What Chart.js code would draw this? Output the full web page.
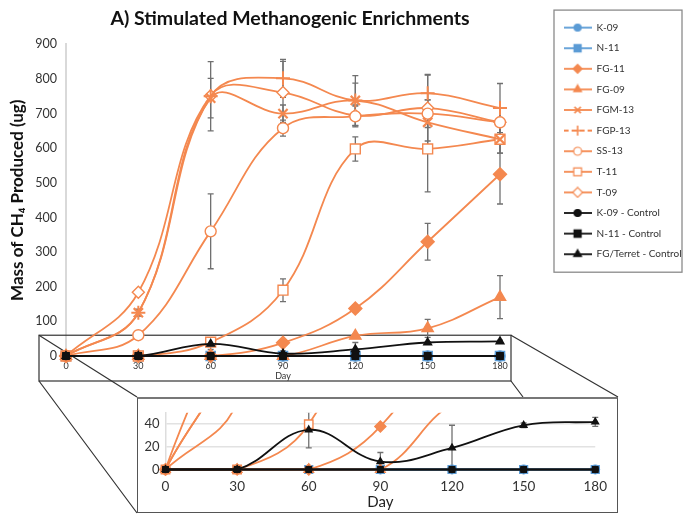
<!DOCTYPE html>
<html><head><meta charset="utf-8">
<script src="https://cdn.jsdelivr.net/npm/chart.js@4.4.1/dist/chart.umd.min.js"></script>
<style>
html,body{margin:0;padding:0;background:#fff;}
#wrap{position:relative;width:684px;height:517px;overflow:hidden;}
#main{position:absolute;left:0;top:0;}
#insetBox{position:absolute;left:137px;top:397px;width:481px;height:116px;box-sizing:border-box;border:1.5px solid #555;border-top:2.5px solid #777;background:#fff;}
#inset{display:block;}
</style></head><body>
<div id="wrap">
<canvas id="main" width="684" height="517"></canvas>
<div id="insetBox"><canvas id="inset" width="478" height="112"></canvas></div>
</div>
<script>
// ---------- data ----------
const days = [0, 30, 60, 90, 120, 150, 180];
const seriesNames = ['K-09', 'N-11', 'FG-11', 'FG-09', 'FGM-13', 'FGP-13', 'SS-13', 'T-11', 'T-09',
  'K-09 - Control', 'N-11 - Control', 'FG/Terret - Control'];
const k09 = [0, 0, 0, 0, 0, 0, 0];
const n11 = [0, 0, 0, 0, 0, 0, 0];
const fg11 = [0, 0, 0, 38, 137, 330, 525];
const fg09 = [0, 0, 0, 0, 58, 80, 170];
const fgm13 = [0, 125, 745, 700, 738, 675, 626];
const fgp13 = [0, 125, 750, 802, 738, 759, 716];
const ss13 = [0, 60, 360, 658, 692, 700, 675];
const t11 = [0, 0, 40, 190, 598, 598, 626];
const t09 = [0, 184, 752, 761, 695, 716, 675];
const k09Control = [0, 0, 0, 0, 0, 0, 0];
const n11Control = [0, 0, 0, 0, 0, 0, 0];
const fgTerretControl = [0, 0, 35, 7, 19, 39, 42];

// +/- error values
const k09Err = [0, 0, 0, 0, 0, 0, 0];
const n11Err = [0, 0, 0, 0, 0, 0, 0];
const fg11Err = [0, 0, 0, 0, 10, 53, 86];
const fg09Err = [0, 0, 0, 0, 5, 26, 62];
const fgm13Err = [0, 10, 57, 25, 72, 65, 40];
const fgp13Err = [0, 8, 100, 55, 50, 54, 71];
const ss13Err = [0, 5, 108, 23, 30, 40, 40];
const t11Err = [0, 0, 0, 33, 35, 124, 40];
const t09Err = [0, 5, 0, 90, 30, 95, 40];
const k09ControlErr = [0, 0, 0, 0, 0, 0, 0];
const n11ControlErr = [0, 0, 0, 0, 0, 0, 0];
const fgTerretControlErr = [0, 0, 16, 8, 20, 2, 4];

const mainYTicks = [0, 100, 200, 300, 400, 500, 600, 700, 800, 900];
const insetYLabels = [0, 20, 40];

const seriesValues = [k09, n11, fg11, fg09, fgm13, fgp13, ss13, t11, t09, k09Control, n11Control, fgTerretControl];
const seriesErrors = [k09Err, n11Err, fg11Err, fg09Err, fgm13Err, fgp13Err, ss13Err, t11Err, t09Err, k09ControlErr, n11ControlErr, fgTerretControlErr];

// ---------- styles ----------
const BLUE = '#5B9BD5', ORANGE = '#F4884F', BLACK = '#111111', WHITE = '#ffffff';
const styles = [
  {color: BLUE, fill: BLUE, ps: 'circle', r: 5, lr: 3.5, order: 1},
  {color: BLUE, fill: BLUE, ps: 'rect', r: 6.5, lr: 5, order: 1},
  {color: ORANGE, fill: ORANGE, ps: 'rectRot', r: 6.5, lr: 4.5, order: 0},
  {color: ORANGE, fill: ORANGE, ps: 'triangle', r: 6.5, lr: 4.5, order: 0},
  {color: ORANGE, fill: ORANGE, ps: 'crossRot', r: 6.5, lr: 4.5, bw: 2.2, order: 0},
  {color: ORANGE, fill: ORANGE, ps: 'cross', r: 7, lr: 5, bw: 2, dash: true, order: 0},
  {color: ORANGE, fill: WHITE, ps: 'circle', r: 5.5, lr: 4, order: 0},
  {color: ORANGE, fill: WHITE, ps: 'rect', r: 7, lr: 5.5, order: 0},
  {color: ORANGE, fill: WHITE, ps: 'rectRot', r: 6, lr: 5, order: 0},
  {color: BLACK, fill: BLACK, ps: 'circle', r: 3.5, lr: 3.5, order: -1},
  {color: BLACK, fill: BLACK, ps: 'rect', r: 4.5, lr: 5, order: -1},
  {color: BLACK, fill: BLACK, ps: 'triangle', r: 4.5, lr: 4.5, order: -1}
];

Chart.defaults.font.family = "Lato, 'DejaVu Sans', sans-serif";
Chart.defaults.color = '#333';

function makeLegendImage(st) {
  const c = document.createElement('canvas');
  c.width = 28; c.height = 12;
  const g = c.getContext('2d');
  g.strokeStyle = st.color; g.lineWidth = 1.8;
  if (st.dash) g.setLineDash([5, 3]);
  g.beginPath(); g.moveTo(0, 6); g.lineTo(28, 6); g.stroke();
  g.setLineDash([]);
  g.fillStyle = st.fill; g.strokeStyle = st.color; g.lineWidth = st.bw ? 1.6 : 1.2;
  Chart.helpers.drawPoint(g, {pointStyle: st.ps, radius: st.lr, borderWidth: 1.2, rotation: 0}, 14, 6);
  return c;
}
const legendImages = styles.map(makeLegendImage);

function buildDatasets(scale) {
  return seriesNames.map((name, i) => {
    const st = styles[i];
    return {
      label: name,
      data: days.map((d, j) => ({x: d, y: seriesValues[i][j]})),
      errors: seriesErrors[i],
      borderColor: st.color,
      backgroundColor: st.color,
      borderWidth: 1.8,
      tension: 0.4,
      pointStyle: st.ps,
      pointRadius: st.r * scale,
      pointBackgroundColor: st.fill,
      pointBorderColor: st.color,
      pointBorderWidth: st.bw || 1.4,
      order: st.order
    };
  });
}

const errorBarsPlugin = {
  id: 'errorBars',
  beforeDatasetsDraw(chart, args, opts) {
    const {ctx, chartArea: a} = chart;
    const ys = chart.scales.y;
    ctx.save();
    ctx.beginPath();
    ctx.rect(a.left - 10, a.top - (opts.clipTop ? 0 : 20), a.right - a.left + 20, a.bottom - a.top + 30);
    ctx.clip();
    ctx.strokeStyle = '#707070';
    ctx.lineWidth = 1.3;
    const cap = 3;
    chart.data.datasets.forEach((ds, i) => {
      const meta = chart.getDatasetMeta(i);
      meta.data.forEach((pt, j) => {
        const e = ds.errors[j];
        if (!e) return;
        const v = ds.data[j].y;
        const t = ys.getPixelForValue(v + e), b = ys.getPixelForValue(v - e);
        ctx.beginPath();
        ctx.moveTo(pt.x, t); ctx.lineTo(pt.x, b);
        ctx.moveTo(pt.x - cap, t); ctx.lineTo(pt.x + cap, t);
        ctx.moveTo(pt.x - cap, b); ctx.lineTo(pt.x + cap, b);
        ctx.stroke();
      });
    });
    ctx.restore();
  }
};

const zoomFramePlugin = {
  id: 'zoomFrame',
  beforeDatasetsDraw(chart) {
    const {ctx, chartArea: a, scales: {x, y}} = chart;
    const box = document.getElementById('insetBox');
    const L = a.left - 27, R = x.getPixelForValue(180) + 11, T = y.getPixelForValue(60), B = a.bottom + 25;
    const iL = box.offsetLeft, iT = box.offsetTop, iR = iL + box.offsetWidth, iB = iT + box.offsetHeight;
    ctx.save();
    ctx.strokeStyle = '#333'; ctx.lineWidth = 1.2;
    ctx.strokeRect(L, T, R - L, B - T);
    ctx.beginPath();
    ctx.moveTo(L, T); ctx.lineTo(iL, iT);
    ctx.moveTo(L, B); ctx.lineTo(iL, iB);
    ctx.moveTo(R, T); ctx.lineTo(iR, iT);
    ctx.moveTo(R, B); ctx.lineTo(R + 12, iT);
    ctx.stroke();
    ctx.restore();
  }
};

const legendBorderPlugin = {
  id: 'legendBorder',
  afterDraw(chart) {
    const lg = chart.legend;
    const hb = lg.legendHitBoxes;
    if (!hb || !hb.length) return;
    const last = hb[hb.length - 1];
    const ctx = chart.ctx;
    ctx.save();
    ctx.strokeStyle = '#8a8a8a'; ctx.lineWidth = 1.3;
    const top = hb[0].top - 12.5, bottom = last.top + last.height + 13;
    ctx.strokeRect(lg.left + 1, top, chart.width - 3 - lg.left, bottom - top);
    ctx.restore();
  }
};

const titleShiftPlugin = {
  id: 'titleShift',
  afterLayout(chart) {
    const t = chart.titleBlock;
    if (t) { t.left += 7; t.right += 7; }
  }
};

new Chart(document.getElementById('main'), {
  type: 'line',
  data: {datasets: buildDatasets(1)},
  options: {
    responsive: false,
    animation: false,
    datasets: {line: {clip: false}},
    layout: {padding: {left: 0, right: 0, top: 0, bottom: 133}},
    scales: {
      x: {
        type: 'linear', min: 0, max: 180,
        grid: {display: false, drawTicks: false},
        border: {display: false},
        ticks: {stepSize: 30, font: {size: 9}, padding: 5, color: '#333'},
        title: {display: true, text: 'Day', font: {size: 9}, padding: {top: 0, bottom: 2.5}, color: '#333'},
        afterFit: s => { s.height = 28; }
      },
      y: {
        min: 0, max: 900,
        grid: {display: false, drawTicks: false},
        border: {display: true, color: '#d9d9d9', width: 2},
        afterBuildTicks: s => { s.ticks = mainYTicks.map(v => ({value: v})); },
        ticks: {font: {size: 12.5}, padding: 9, color: '#333'},
        title: {display: true, text: 'Mass of CH\u2084 Produced (ug)', font: {size: 17, weight: 'bold'}, color: '#111', padding: {top: 7.5, bottom: 0}},
        afterFit: s => { s.width = 66; }
      },
      yR: {
        position: 'right', display: true,
        grid: {display: false}, border: {display: false},
        ticks: {display: false},
        afterFit: s => { s.width = 53; }
      }
    },
    plugins: {
      title: {display: true, text: 'A) Stimulated Methanogenic Enrichments', fullSize: false,
        font: {size: 19.5, weight: 'bold'}, color: '#111', padding: {top: 7, bottom: 14}},
      legend: {
        position: 'right', align: 'start', maxWidth: 131,
        title: {display: true, text: '', font: {size: 10}, padding: 0},
        labels: {
          usePointStyle: true, pointStyleWidth: 28, font: {size: 10}, padding: 10.6, color: '#333',
          sort: (a, b) => a.datasetIndex - b.datasetIndex,
          generateLabels: chart => Chart.defaults.plugins.legend.labels.generateLabels(chart)
            .map(it => Object.assign(it, {pointStyle: legendImages[it.datasetIndex]}))
        }
      },
      tooltip: {enabled: false},
      errorBars: {clipTop: false}
    }
  },
  plugins: [titleShiftPlugin, zoomFramePlugin, errorBarsPlugin, legendBorderPlugin]
});

new Chart(document.getElementById('inset'), {
  type: 'line',
  data: {datasets: buildDatasets(0.85)},
  options: {
    responsive: false,
    animation: false,
    datasets: {line: {clip: {left: 10, right: 10, top: 0, bottom: 10}}},
    layout: {padding: {left: 0, right: 16.5, top: 12.5, bottom: 0}},
    scales: {
      x: {
        type: 'linear', min: 0, max: 180,
        grid: {display: false, drawTicks: false},
        border: {display: false},
        ticks: {stepSize: 30, font: {size: 13.5}, padding: 9, color: '#333'},
        title: {display: true, text: 'Day', font: {size: 15}, padding: {top: 0, bottom: 0}, color: '#222'},
        afterFit: s => { s.height = 41.5; }
      },
      y: {
        min: 0, max: 50,
        grid: {color: '#e2e2e2', lineWidth: 1.5, drawTicks: false},
        border: {display: true, color: '#dddddd', width: 1.5},
        ticks: {stepSize: 10, font: {size: 13}, padding: 6, color: '#333',
          callback: v => insetYLabels.includes(v) ? String(v) : ''},
        afterFit: s => { s.width = 27.5; }
      }
    },
    plugins: {
      legend: {display: false},
      title: {display: false},
      tooltip: {enabled: false},
      errorBars: {clipTop: true}
    }
  },
  plugins: [errorBarsPlugin]
});
</script>
</body></html>
